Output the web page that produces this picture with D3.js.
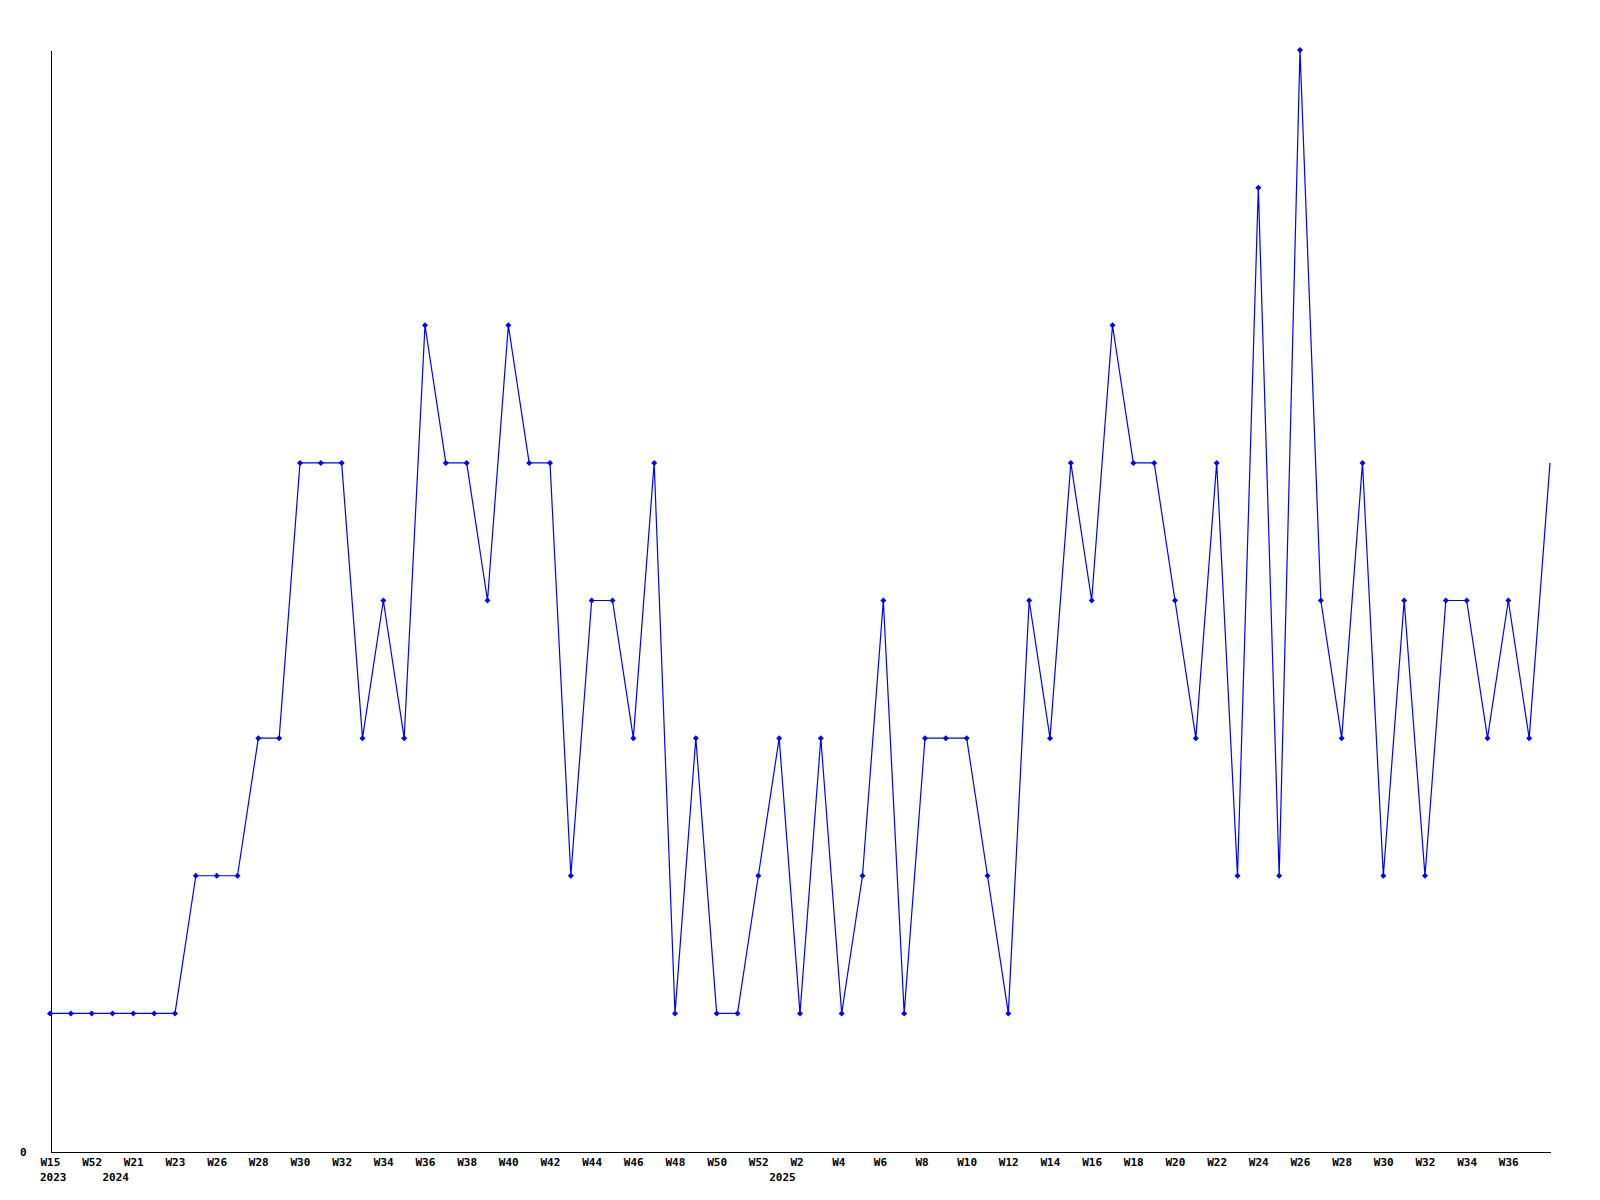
<!DOCTYPE html>
<html>
<head>
<meta charset="utf-8">
<script src="https://cdn.jsdelivr.net/npm/d3@7"></script>
<style>
body { margin: 0; background: #fff; }
text { font-family: "DejaVu Sans Mono", monospace; font-weight: bold; font-size: 11px; fill: #000; }
</style>
</head>
<body>
<div id="chart"></div>
<script>
var width = 1600,
height = 1200;

// one value per week, left to right
var values = [1, 1, 1, 1, 1, 1, 1, 2, 2, 2, 3, 3, 5, 5, 5, 3, 4, 3, 6, 5,
  5, 4, 6, 5, 5, 2, 4, 4, 3, 5, 1, 3, 1, 1, 2, 3, 1, 3, 1, 2,
  4, 1, 3, 3, 3, 2, 1, 4, 3, 5, 4, 6, 5, 5, 4, 3, 5, 2, 7, 2,
  8, 4, 3, 5, 2, 4, 2, 4, 4, 3, 4, 3, 5];

// week labels shown under every other point
var weekLabels = ["W15", "", "W52", "", "W21", "", "W23", "", "W26", "", "W28", "", "W30", "", "W32", "", "W34", "", "W36", "",
  "W38", "", "W40", "", "W42", "", "W44", "", "W46", "", "W48", "", "W50", "", "W52", "", "W2", "", "W4", "",
  "W6", "", "W8", "", "W10", "", "W12", "", "W14", "", "W16", "", "W18", "", "W20", "", "W22", "", "W24", "",
  "W26", "", "W28", "", "W30", "", "W32", "", "W34", "", "W36", "", ""];

var yearIndex = [0, 3, 35];
var yearLabels = ["2023", "2024", "2025"];

var svg = d3.select("#chart").append("svg")
  .attr("width", width)
  .attr("height", height);

var xScale = d3.scalePoint()
  .domain(d3.range(values.length))
  .range([50, 1550]);

var yScale = d3.scaleLinear()
  .domain([0, 8])
  .range([1151, 50]);

var xAxis = d3.axisBottom(xScale)
  .tickSize(0)
  .tickSizeOuter(0)
  .tickPadding(10)
  .tickFormat(function(i) { return weekLabels[i]; });

var xAxisGroup = svg.append("g")
  .attr("transform", "translate(0.5, 1151.5)")
  .attr("font-family", null)
  .attr("font-size", null)
  .call(xAxis);
xAxisGroup.select(".domain").attr("shape-rendering", "crispEdges");
xAxisGroup.selectAll("text")
  .attr("text-anchor", "start")
  .attr("x", -10.5)
  .attr("y", 14)
  .attr("dy", null);

svg.selectAll(".year")
  .data(yearIndex)
  .enter()
  .append("text")
  .attr("class", "year")
  .attr("x", function(d) { return xScale(d) - 10; })
  .attr("y", 1181)
  .text(function(d, i) { return yearLabels[i]; });

var yAxis = d3.axisLeft(yScale)
  .tickValues([0])
  .tickSize(0)
  .tickSizeOuter(0)
  .tickPadding(24);

var yAxisGroup = svg.append("g")
  .attr("transform", "translate(50.5, 0.5)")
  .attr("font-family", null)
  .attr("font-size", null)
  .call(yAxis);
yAxisGroup.select(".domain").attr("shape-rendering", "crispEdges");

var line = d3.line()
  .x(function(d, i) { return xScale(i); })
  .y(function(d) { return yScale(d); });

svg.append("path")
  .datum(values)
  .attr("fill", "none")
  .attr("stroke", "#0000ff")
  .attr("stroke-width", 1.2)
  .attr("d", line);

// markers on every point except the last
svg.selectAll(".marker")
  .data(values.slice(0, values.length - 1))
  .enter()
  .append("path")
  .attr("class", "marker")
  .attr("fill", "#0000ff")
  .attr("d", function(d, i) {
    var cx = xScale(i), cy = yScale(d);
    return "M" + cx + "," + (cy - 3) + "L" + (cx + 3) + "," + cy + "L" + cx + "," + (cy + 3) + "L" + (cx - 3) + "," + cy + "Z";
  });
</script>
</body>
</html>
